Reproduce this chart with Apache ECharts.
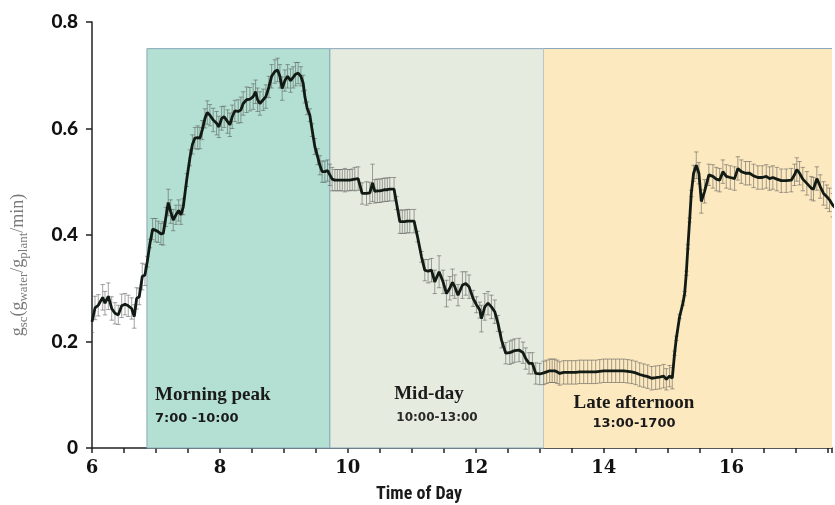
<!DOCTYPE html>
<html>
<head>
<meta charset="utf-8">
<script src="https://cdn.jsdelivr.net/npm/echarts@6/dist/echarts.min.js"></script>
<style>html,body{margin:0;padding:0;background:#fff;overflow:hidden}#c{width:835px;height:505px}</style>
</head>
<body>
<div id="c"></div>
<script>
// ---- data ----
const times = [
6.000,6.047,6.098,6.167,6.203,6.255,6.308,6.359,6.411,6.464,6.516,6.567,6.620,6.661,6.698,6.739,6.786,6.828,6.864,6.906,
6.948,6.995,7.036,7.078,7.114,7.156,7.192,7.230,7.270,7.313,7.355,7.391,7.427,7.480,7.531,7.570,7.609,7.652,7.688,7.723,
7.766,7.802,7.844,7.895,7.948,7.984,8.027,8.067,8.120,8.156,8.192,8.234,8.286,8.328,8.364,8.417,8.469,8.520,8.558,8.589,
8.625,8.677,8.719,8.766,8.808,8.859,8.902,8.938,8.973,9.016,9.058,9.105,9.145,9.183,9.223,9.266,9.302,9.328,9.364,9.406,
9.442,9.484,9.527,9.563,9.598,9.641,9.683,9.719,9.755,9.797,9.836,9.875,9.914,9.953,9.992,10.031,10.070,10.109,10.161,10.223,
10.292,10.344,10.386,10.422,10.461,10.500,10.539,10.578,10.617,10.656,10.723,10.761,10.813,10.852,10.891,10.930,10.969,11.036,11.089,11.152,
11.203,11.255,11.308,11.359,11.427,11.489,11.542,11.594,11.636,11.672,11.723,11.792,11.844,11.895,11.958,12.011,12.063,12.089,12.141,12.192,
12.245,12.297,12.348,12.402,12.469,12.531,12.570,12.609,12.677,12.739,12.781,12.833,12.886,12.938,13.000,13.063,13.109,13.156,13.195,13.234,
13.273,13.313,13.375,13.438,13.500,13.563,13.625,13.688,13.750,13.813,13.875,13.938,14.000,14.063,14.125,14.188,14.250,14.313,14.375,14.438,
14.500,14.563,14.625,14.688,14.750,14.813,14.875,14.938,14.980,15.031,15.073,15.109,15.136,15.188,15.239,15.266,15.292,15.317,15.344,15.370,
15.406,15.448,15.489,15.527,15.578,15.645,15.708,15.761,15.813,15.864,15.917,15.980,16.047,16.098,16.152,16.219,16.281,16.344,16.411,16.480,
16.542,16.594,16.645,16.708,16.777,16.855,16.933,16.984,17.020,17.063,17.114,17.177,17.245,17.281,17.333,17.386,17.438,17.489,17.531,17.583,
17.630];
const gsc = [
0.237,0.263,0.268,0.283,0.272,0.285,0.262,0.253,0.250,0.267,0.270,0.267,0.262,0.247,0.281,0.284,0.322,0.325,0.350,0.384,
0.411,0.409,0.406,0.402,0.403,0.434,0.461,0.444,0.428,0.438,0.446,0.438,0.453,0.503,0.545,0.570,0.582,0.583,0.582,0.597,
0.619,0.630,0.625,0.616,0.610,0.603,0.619,0.622,0.613,0.607,0.622,0.633,0.632,0.635,0.647,0.654,0.655,0.660,0.669,0.654,
0.647,0.654,0.660,0.678,0.698,0.707,0.710,0.698,0.675,0.690,0.698,0.690,0.696,0.702,0.704,0.698,0.685,0.660,0.638,0.625,
0.597,0.566,0.547,0.531,0.519,0.519,0.521,0.513,0.505,0.503,0.503,0.503,0.503,0.503,0.503,0.503,0.504,0.505,0.506,0.478,
0.478,0.479,0.498,0.482,0.483,0.483,0.484,0.485,0.485,0.486,0.486,0.460,0.425,0.425,0.425,0.426,0.426,0.426,0.397,0.359,
0.334,0.332,0.334,0.312,0.331,0.312,0.290,0.300,0.311,0.303,0.287,0.306,0.309,0.303,0.281,0.269,0.259,0.243,0.265,0.272,
0.265,0.256,0.234,0.203,0.178,0.179,0.181,0.183,0.184,0.179,0.168,0.159,0.159,0.140,0.139,0.141,0.143,0.145,0.145,0.145,
0.143,0.140,0.142,0.142,0.142,0.142,0.143,0.143,0.143,0.143,0.143,0.144,0.145,0.145,0.145,0.145,0.145,0.145,0.144,0.143,
0.141,0.138,0.136,0.134,0.131,0.132,0.133,0.135,0.129,0.135,0.131,0.178,0.206,0.247,0.272,0.290,0.328,0.378,0.428,0.478,
0.516,0.531,0.516,0.463,0.482,0.513,0.510,0.505,0.503,0.519,0.510,0.508,0.506,0.525,0.519,0.516,0.516,0.511,0.508,0.508,
0.510,0.506,0.508,0.505,0.502,0.502,0.503,0.513,0.523,0.516,0.505,0.497,0.488,0.486,0.506,0.491,0.478,0.472,0.466,0.456,
0.450];
const sem = [
0.020,0.022,0.020,0.024,0.022,0.025,0.022,0.020,0.018,0.022,0.020,0.020,0.020,0.022,0.020,0.015,0.025,0.020,0.010,0.008,
0.020,0.022,0.020,0.020,0.022,0.018,0.025,0.022,0.020,0.018,0.020,0.018,0.015,0.012,0.015,0.018,0.020,0.022,0.020,0.018,
0.018,0.022,0.020,0.022,0.022,0.020,0.022,0.020,0.022,0.022,0.022,0.020,0.022,0.024,0.022,0.024,0.022,0.024,0.022,0.022,
0.022,0.020,0.022,0.020,0.022,0.022,0.022,0.022,0.022,0.020,0.022,0.022,0.020,0.022,0.020,0.018,0.015,0.012,0.012,0.012,
0.012,0.015,0.015,0.018,0.020,0.020,0.020,0.020,0.022,0.020,0.020,0.020,0.020,0.022,0.020,0.020,0.020,0.022,0.022,0.020,
0.022,0.020,0.035,0.022,0.022,0.022,0.022,0.022,0.022,0.022,0.022,0.012,0.022,0.022,0.022,0.022,0.022,0.022,0.010,0.010,
0.020,0.022,0.022,0.022,0.030,0.022,0.025,0.022,0.025,0.022,0.020,0.025,0.022,0.022,0.015,0.015,0.015,0.025,0.025,0.022,
0.022,0.022,0.015,0.015,0.020,0.022,0.022,0.022,0.022,0.020,0.020,0.020,0.020,0.020,0.020,0.022,0.022,0.022,0.022,0.022,
0.022,0.022,0.022,0.022,0.022,0.022,0.022,0.022,0.022,0.022,0.022,0.022,0.022,0.022,0.022,0.022,0.022,0.022,0.022,0.022,
0.022,0.022,0.022,0.022,0.022,0.022,0.022,0.022,0.020,0.020,0.020,0.004,0.004,0.004,0.004,0.004,0.004,0.004,0.004,0.006,
0.015,0.025,0.020,0.022,0.022,0.020,0.022,0.022,0.022,0.022,0.022,0.022,0.022,0.022,0.022,0.022,0.022,0.022,0.022,0.022,
0.022,0.022,0.022,0.022,0.022,0.022,0.022,0.020,0.022,0.022,0.022,0.022,0.022,0.022,0.022,0.022,0.022,0.022,0.022,0.022,
0.022];
const periods = [
  {name: 'Morning peak', range: '7:00 -10:00', from: 6.859, to: 9.719},
  {name: 'Mid-day', range: '10:00-13:00', from: 9.719, to: 13.0625},
  {name: 'Late afternoon', range: '13:00-1700', from: 13.0625, to: 17.57}
];
const periodTop = 0.75;
const xTicks = [6, 8, 10, 12, 14, 16];
const yTicks = [0, 0.2, 0.4, 0.6, 0.8];

// ---- chart ----
const chart = echarts.init(document.getElementById('c'), null, {renderer: 'canvas'});
const lineData = times.map((t, i) => [t, gsc[i]]);
const errData = times.map((t, i) => [t, gsc[i] - sem[i], gsc[i] + sem[i]]);
const periodColors = ['#b3e0d2', '#e5ebde', '#fde9bf'];
const borderCol = '#8aa9bd';

function txt(x, y, text, font, align, fill) {
  return {type: 'text', x: x, y: y, z: 100, zlevel: 1, silent: true,
    style: {text: text, font: font, fill: fill || '#1a1a1a', textAlign: align, textVerticalAlign: 'middle', align: align, verticalAlign: 'middle'}};
}

const last = periods[periods.length - 1];
const option = {
  animation: false,
  grid: {left: 92, right: 0, top: 22, bottom: 57, containLabel: false},
  xAxis: {
    type: 'value', min: 6, max: 17.57, interval: 0.5,
    axisLine: {show: true, lineStyle: {color: '#222', width: 1.5}},
    axisTick: {show: true, length: 5, lineStyle: {color: '#222', width: 1.5}},
    splitLine: {show: false},
    axisLabel: {
      margin: 11, color: '#111', fontFamily: 'DejaVu Serif', fontWeight: 'bold', fontSize: 18,
      formatter: v => xTicks.indexOf(Math.round(v * 1000) / 1000) >= 0 ? String(v) : ''
    }
  },
  yAxis: {
    type: 'value', min: 0, max: 0.8, interval: 0.2,
    axisLine: {show: true, lineStyle: {color: '#222', width: 1.5}},
    axisTick: {show: true, inside: false, length: 6, lineStyle: {color: '#222', width: 1.5}},
    splitLine: {show: false},
    axisLabel: {
      margin: 14, color: '#111', fontFamily: 'Lato', fontWeight: 900, fontSize: 19,
      formatter: v => {
        const r = Math.round(v * 10) / 10;
        return yTicks.indexOf(r) >= 0 ? (r === 0 ? '0' : r.toFixed(1)) : '';
      }
    }
  },
  series: [
    {
      type: 'line', data: [], silent: true,
      markArea: {
        silent: true,
        data: periods.map((p, i) => [
          {xAxis: p.from, yAxis: 0, itemStyle: {color: periodColors[i], borderColor: i === periods.length - 1 ? periodColors[i] : borderCol, borderWidth: i === periods.length - 1 ? 0 : 1}},
          {xAxis: p.to, yAxis: periodTop}
        ])
      },
      markLine: {
        silent: true, symbol: 'none', label: {show: false},
        lineStyle: {color: borderCol, width: 1, type: 'solid'},
        data: [[{coord: [last.from, periodTop]}, {coord: [last.to, periodTop]}]]
      }
    },
    {
      type: 'custom', data: errData, clip: true, z: 3, silent: true,
      renderItem: (params, api) => {
        const x = api.value(0);
        const lo = api.coord([x, api.value(1)]);
        const hi = api.coord([x, api.value(2)]);
        const cap = 2.2;
        const st = {stroke: 'rgba(85,85,85,0.6)', lineWidth: 0.9};
        return {
          type: 'group',
          children: [
            {type: 'line', shape: {x1: lo[0], y1: lo[1], x2: hi[0], y2: hi[1]}, style: st},
            {type: 'line', shape: {x1: lo[0] - cap, y1: lo[1], x2: lo[0] + cap, y2: lo[1]}, style: st},
            {type: 'line', shape: {x1: hi[0] - cap, y1: hi[1], x2: hi[0] + cap, y2: hi[1]}, style: st}
          ]
        };
      }
    },
    {
      type: 'line', data: lineData, showSymbol: false, z: 5, silent: true,
      lineStyle: {color: '#121a14', width: 2.8}
    }
  ],
  graphic: [
    txt(155, 395, periods[0].name, 'bold 19px "Liberation Serif"', 'left'),
    txt(155, 419, periods[0].range, 'bold 13px "DejaVu Sans"', 'left'),
    txt(429, 394, periods[1].name, 'bold 19px "Liberation Serif"', 'center'),
    txt(437, 418, periods[1].range, 'bold 12px "DejaVu Sans"', 'center', '#2a2a2a'),
    txt(634, 403, periods[2].name, 'bold 19px "Liberation Serif"', 'center'),
    txt(634, 424, periods[2].range, 'bold 13px "DejaVu Sans"', 'center'),
    txt(419, 494, 'Time of Day', 'bold 18px "Liberation Sans Narrow", "Roboto Condensed", Roboto, sans-serif', 'center'),
    {
      type: 'text', x: 18, y: 265, rotation: Math.PI / 2, z: 100, zlevel: 1, silent: true,
      style: {
        text: '{m|g}{s|sc}{m|(g}{s|water}{m|/g}{s|plant}{m|/min)}',
        textAlign: 'center', textVerticalAlign: 'middle', align: 'center', verticalAlign: 'middle',
        rich: {
          m: {fontFamily: 'Liberation Serif', fontSize: 18, color: '#7a7a7a', fill: '#7a7a7a', lineHeight: 24, verticalAlign: 'middle'},
          s: {fontFamily: 'Liberation Serif', fontSize: 13, color: '#7a7a7a', fill: '#7a7a7a', lineHeight: 24, verticalAlign: 'bottom'}
        }
      }
    }
  ]
};
chart.setOption(option);
</script>
</body>
</html>
